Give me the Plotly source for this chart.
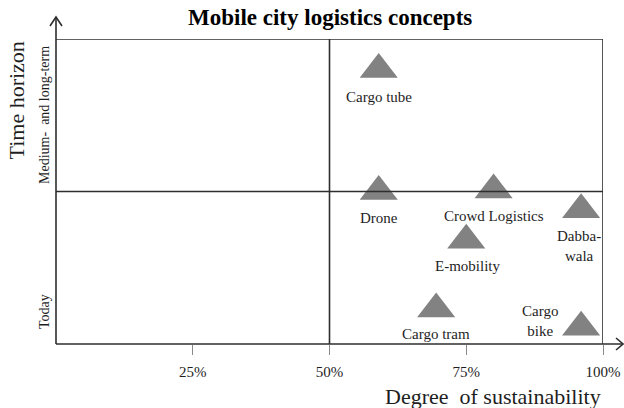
import plotly.graph_objects as go

# ---- data ----
concepts = ["Cargo tube", "Drone", "Crowd Logistics", "Dabba-wala", "E-mobility", "Cargo tram", "Cargo bike"]
sustainability = [59, 59, 80, 96, 75, 69.5, 96]          # degree of sustainability (%)
time_horizon = [90, 50, 50.5, 44, 34, 11.5, 5.5]          # 0 = today, 100 = medium/long-term
label_text = ["Cargo tube", "Drone", "Crowd Logistics", "Dabba-<br>wala", "E-mobility", "Cargo tram", "Cargo<br>bike"]
tick_vals = [25, 50, 75, 100]
tick_text = ["25%", "50%", "75%", "100%"]

# label placement (pixel offsets relative to marker)
label_offsets = {
    "Cargo tube": (0, -27),
    "Drone": (0, -26),
    "Crowd Logistics": (0, -26),
    "Dabba-wala": (-2, -36),
    "E-mobility": (1, -26),
    "Cargo tram": (0, -25),
    "Cargo bike": (-41, 6),
}

FONT = "Liberation Serif"
TXT = "#1e1e1e"
LINE = "#2e2e2e"

fig = go.Figure()
fig.add_trace(go.Scatter(
    x=sustainability, y=time_horizon, mode="markers",
    marker=dict(symbol="triangle-up", size=33, color="#828282", line=dict(width=0)),
    hoverinfo="skip", showlegend=False, cliponaxis=False,
))

annotations = []
for name, lbl, xv, yv in zip(concepts, label_text, sustainability, time_horizon):
    dx, dy = label_offsets[name]
    annotations.append(dict(x=xv, y=yv, xref="x", yref="y", text=lbl, showarrow=False,
                            xshift=dx, yshift=dy, xanchor="center", yanchor="middle",
                            font=dict(family=FONT, size=15, color=TXT)))

annotations += [
    dict(text="<b>Mobile city logistics concepts</b>", x=50, xref="x", y=1.069, yref="paper",
         showarrow=False, xanchor="center", yanchor="middle",
         font=dict(family=FONT, size=23, color="#000")),
    dict(text="Degree  of sustainability", x=1.0, xref="paper", y=-0.173, yref="paper",
         showarrow=False, xanchor="right", yanchor="middle",
         font=dict(family=FONT, size=22, color=TXT)),
    dict(text="Time horizon", x=-0.0704, xref="paper", y=0.80, yref="paper", textangle=-90,
         showarrow=False, xanchor="center", yanchor="middle",
         font=dict(family=FONT, size=22, color=TXT)),
    dict(text="Medium-  and long-term", x=-0.0201, xref="paper", y=0.751, yref="paper", textangle=-90,
         showarrow=False, xanchor="center", yanchor="middle",
         font=dict(family=FONT, size=14, color=TXT)),
    dict(text="Today", x=-0.0201, xref="paper", y=0.105, yref="paper", textangle=-90,
         showarrow=False, xanchor="center", yanchor="middle",
         font=dict(family=FONT, size=14, color=TXT)),
]

lw = 1.6
shapes = [
    # frame top/right
    dict(type="line", xref="x", yref="y", x0=0, x1=100, y0=100, y1=100, line=dict(color=LINE, width=lw)),
    dict(type="line", xref="x", yref="y", x0=100, x1=100, y0=0, y1=100, line=dict(color=LINE, width=lw)),
    # quadrant dividers
    dict(type="line", xref="x", yref="y", x0=50, x1=50, y0=0, y1=100, line=dict(color=LINE, width=lw)),
    dict(type="line", xref="x", yref="y", x0=0, x1=100, y0=50, y1=50, line=dict(color=LINE, width=lw)),
    # axes with arrows
    dict(type="line", xref="paper", yref="paper", x0=0, x1=0, y0=0, y1=1.072, line=dict(color=LINE, width=lw)),
    dict(type="line", xref="paper", yref="paper", x0=0, x1=1.0366, y0=0, y1=0, line=dict(color=LINE, width=lw)),
    dict(type="path", xref="paper", yref="paper", xsizemode="pixel", ysizemode="pixel",
         xanchor=0, yanchor=1.072, path="M-6,-9 L0,0 L6,-9", line=dict(color=LINE, width=lw)),
    dict(type="path", xref="paper", yref="paper", xsizemode="pixel", ysizemode="pixel",
         xanchor=1.0366, yanchor=0, path="M-7,6 L0,0 L-7,-6", line=dict(color=LINE, width=lw)),
]

fig.update_layout(
    width=624, height=408,
    margin=dict(l=56, r=21, t=39, b=64, autoexpand=False),
    paper_bgcolor="white", plot_bgcolor="white",
    annotations=annotations, shapes=shapes,
    xaxis=dict(range=[0, 100], tickvals=tick_vals, ticktext=tick_text, ticks="outside",
               ticklen=10, tickcolor="#8a8a8a", tickwidth=1, showgrid=False, zeroline=False,
               showline=False, tickfont=dict(family=FONT, size=15, color=TXT),
               ticklabelstandoff=4, fixedrange=True, automargin=False),
    yaxis=dict(range=[0, 100], showticklabels=False, ticks="", showgrid=False, zeroline=False,
               showline=False, fixedrange=True, automargin=False),
)

fig.write_html("out.html", config={"displayModeBar": False},
               post_script="document.body.style.margin='0';document.body.style.overflow='hidden';")
